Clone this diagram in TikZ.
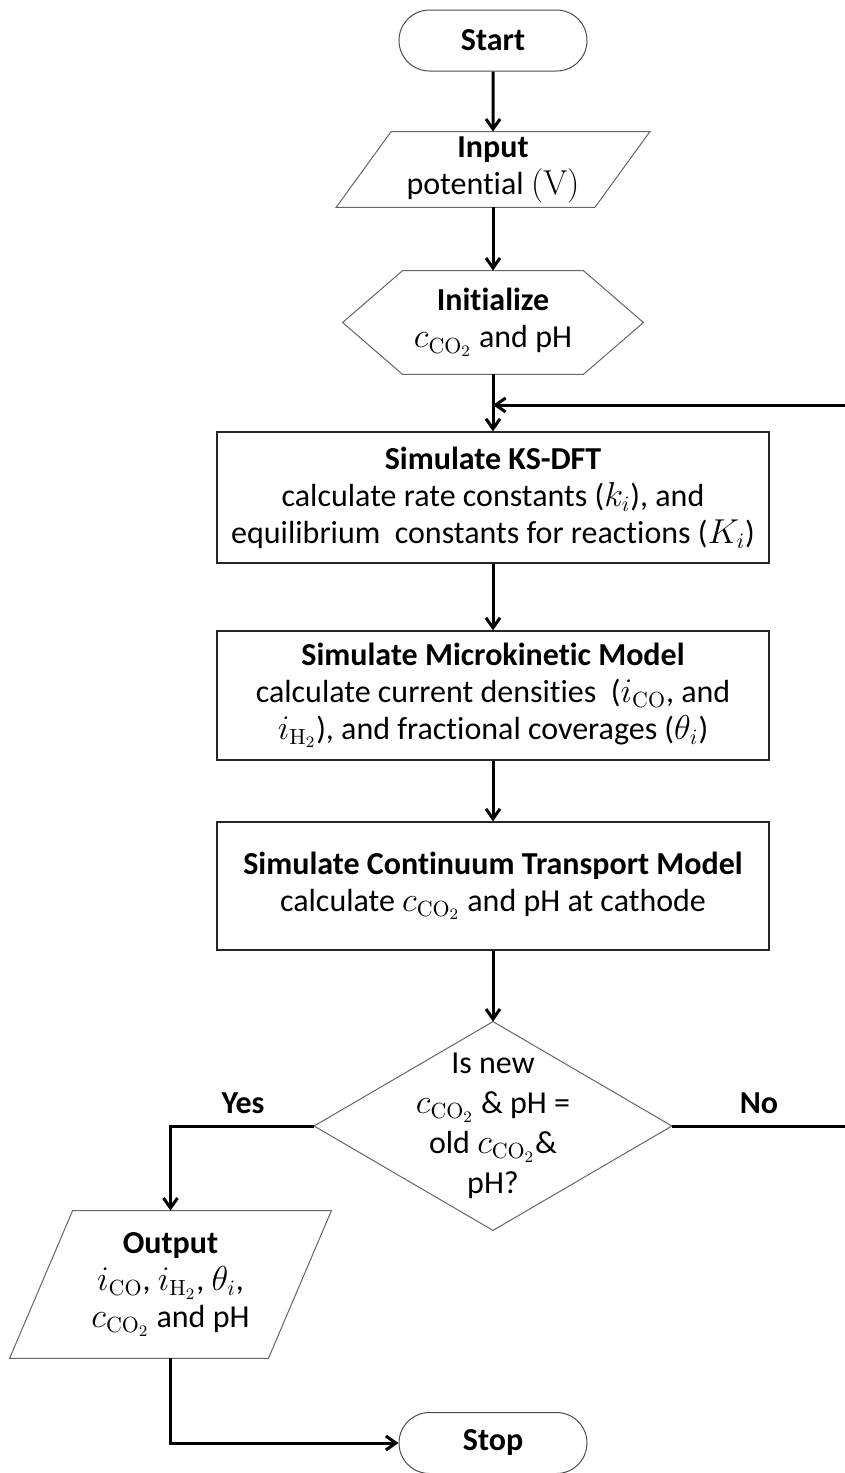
\documentclass[tikz,border=0pt]{standalone}
\usepackage[no-math]{fontspec}
\setmainfont{Carlito}[Ligatures=NoCommon]
\usetikzlibrary{arrows.meta,shapes.misc}
\newcommand{\cco}{$c_{\mathrm{CO_2}}$}
\begin{document}
\begin{tikzpicture}[x=0.5pt,y=-0.5pt,
  txt/.style={font=\fontsize{16}{18.5}\selectfont, align=center, inner sep=0pt},
  termbox/.style={txt, rounded rectangle, draw=black!70, line width=0.5pt,
    minimum width=94pt, minimum height=30.5pt},
  procbox/.style={txt, rectangle, draw=black!85, line width=0.6pt, minimum width=276pt},
  outline/.style={draw=black!60, line width=0.5pt},
  conn/.style={draw=black, line width=1.5pt, -{Straight Barb[length=5pt,width=7pt]}},
  lbl/.style={txt}
]
\useasboundingbox (0,0) rectangle (845,1473);
\fill[white] (0,0) rectangle (845,1473);

% nodes
\node[termbox] (start) at (493,40.5) {\textbf{Start}};

\node[txt, minimum width=129pt, minimum height=37.5pt] (input) at (493,169.5)
  {\textbf{Input}\\potential $(\mathrm{V})$};
\draw[outline] ([xshift=13.75pt]input.north west) -- ([xshift=13.75pt]input.north east)
  -- ([xshift=-13.75pt]input.south east) -- ([xshift=-13.75pt]input.south west) -- cycle;

\node[txt, minimum width=150pt, minimum height=51.5pt] (init) at (493,322.5)
  {\textbf{Initialize}\\\cco{} and pH};
\draw[outline] (init.west) -- ([xshift=30pt]init.north west) -- ([xshift=-30pt]init.north east)
  -- (init.east) -- ([xshift=-30pt]init.south east) -- ([xshift=30pt]init.south west) -- cycle;

\node[procbox, minimum height=65.5pt] (ks) at (493,497.5)
  {\textbf{Simulate KS-DFT}\\calculate rate constants ($k_i$), and\\equilibrium\ \ constants for reactions ($K_i$)};

\node[procbox, minimum height=64.5pt] (micro) at (493,695.5)
  {\textbf{Simulate Microkinetic Model}\\calculate current densities\ \ ($i_{\mathrm{CO}}$, and\\$i_{\mathrm{H_2}}$), and fractional coverages ($\theta_i$)};

\node[procbox, minimum height=64pt] (cont) at (493,886)
  {\textbf{Simulate Continuum Transport Model}\\calculate \cco{} and pH at cathode};

\node[txt, font=\fontsize{16}{20}\selectfont, minimum width=178.5pt, minimum height=104pt] (dec) at (493,1126)
  {Is new\\\cco{} \& pH =\\old \cco{}\&\\pH?};
\draw[outline] (dec.west) -- (dec.north) -- (dec.east) -- (dec.south) -- cycle;

\node[txt, minimum width=129pt, minimum height=73.5pt] (out) at (170.5,1284.5)
  {\textbf{Output}\\$i_{\mathrm{CO}}$, $i_{\mathrm{H_2}}$, $\theta_i$,\\\cco{} and pH};
\draw[outline] ([xshift=15.75pt]out.north west) -- ([xshift=15.75pt]out.north east)
  -- ([xshift=-15.75pt]out.south east) -- ([xshift=-15.75pt]out.south west) -- cycle;

\node[termbox] (stop) at (493,1443) {\textbf{Stop}};

\node[lbl] (yes) at (243,1103) {\textbf{Yes}};
\node[lbl] (no) at (759,1103) {\textbf{No}};

% helper coordinates
\coordinate (join) at (493,405);
\coordinate (fbR) at (848,1126);
\coordinate (fbT) at (848,405);

% connectors
\draw[conn] (start) -- (input);
\draw[conn] (input) -- (init);
\draw[conn] (init) -- (ks);
\draw[conn] (dec.east) -- (fbR) -- (fbT) -- (join);
\draw[conn] (ks) -- (micro);
\draw[conn] (micro) -- (cont);
\draw[conn] (cont) -- (dec.north);
\draw[conn] (dec.west) -| (out.north);
\draw[conn] (out.south) |- (stop.west);
\end{tikzpicture}
\end{document}
